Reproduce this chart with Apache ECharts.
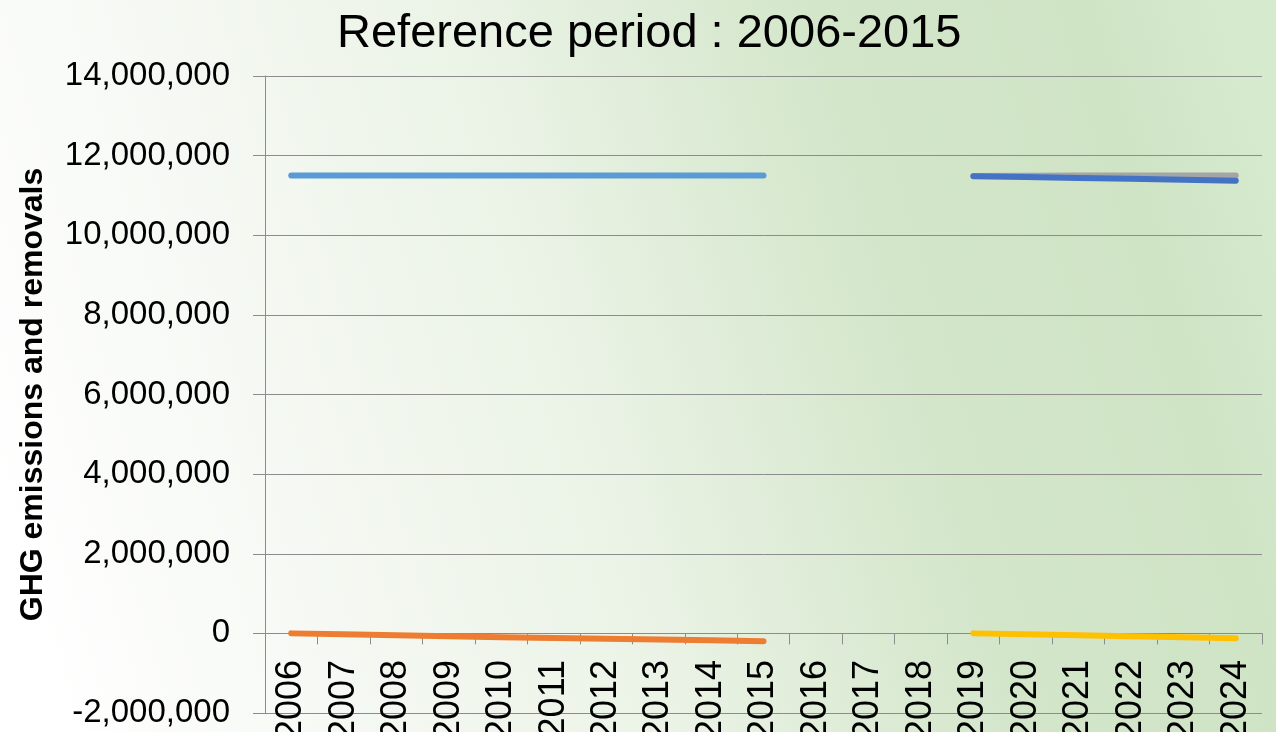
<!DOCTYPE html>
<html>
<head>
<meta charset="utf-8">
<script src="https://cdn.jsdelivr.net/npm/echarts@6/dist/echarts.min.js"></script>
<style>
html,body{margin:0;padding:0;}
#chart{width:1276px;height:732px;}
</style>
</head>
<body>
<div id="chart"></div>
<script>
// years on the category axis
const years = ['2006','2007','2008','2009','2010','2011','2012','2013','2014','2015',
               '2016','2017','2018','2019','2020','2021','2022','2023','2024'];

// reference period 2006-2015
const refEmissions = [11500000,11500000,11500000,11500000,11500000,11500000,11500000,11500000,11500000,11500000,
                      null,null,null,null,null,null,null,null,null];
const refRemovals = [0,-25000,-50000,-70000,-95000,-115000,-135000,-155000,-175000,-195000,
                     null,null,null,null,null,null,null,null,null];

// 2019-2024
const projEmissionsRef = [null,null,null,null,null,null,null,null,null,null,null,null,null,
                          11490000,11495000,11500000,11500000,11500000,11500000];
const projRemovals = [null,null,null,null,null,null,null,null,null,null,null,null,null,
                      0,-25000,-50000,-75000,-100000,-120000];
const projEmissions = [null,null,null,null,null,null,null,null,null,null,null,null,null,
                       11480000,11460000,11440000,11420000,11395000,11370000];

const yTicks = {min: -2000000, max: 14000000, interval: 2000000};

let chart = echarts.init(document.getElementById('chart'));

function lineSeries(data, color) {
    return {
        type: 'line',
        data: data,
        showSymbol: false,
        connectNulls: false,
        lineStyle: {color: color, width: 6, cap: 'round', join: 'round'},
        itemStyle: {color: color}
    };
}

let option = {
    backgroundColor: {
        type: 'linear', x: 0, y: 0.75, x2: 1, y2: 0.25,
        colorStops: [
            {offset: 0, color: '#ffffff'},
            {offset: 0.2, color: '#f6f9f4'},
            {offset: 0.45, color: '#ebf3e6'},
            {offset: 0.7, color: '#d3e6ca'},
            {offset: 0.9, color: '#cfe3c5'},
            {offset: 1, color: '#d6eace'}
        ]
    },
    animation: false,
    title: {
        text: 'Reference period : 2006-2015',
        left: 332,
        top: 6,
        textStyle: {fontFamily: 'Liberation Sans', fontSize: 47, fontWeight: 'normal', color: '#000'}
    },
    grid: {
        left: 265, right: 14, top: 76, bottom: 19,
        outerBoundsMode: 'none'
    },
    xAxis: {
        type: 'category',
        data: years,
        boundaryGap: true,
        axisLine: {lineStyle: {color: '#8c8c8c', width: 1}},
        axisTick: {show: true, length: 11, lineStyle: {color: '#8c8c8c'}},
        axisLabel: {
            show: true, interval: 0, rotate: 90, margin: -53,
            fontFamily: 'Liberation Sans', fontSize: 36, color: '#000'
        },
        splitLine: {show: false}
    },
    yAxis: {
        type: 'value',
        min: yTicks.min,
        max: yTicks.max,
        interval: yTicks.interval,
        name: 'GHG emissions and removals',
        nameLocation: 'middle',
        nameGap: 216,
        nameTextStyle: {fontFamily: 'Liberation Sans', fontSize: 32, fontWeight: 'bold', color: '#000'},
        axisLine: {show: true, lineStyle: {color: '#8c8c8c', width: 1}},
        axisTick: {show: true, length: 12, lineStyle: {color: '#8c8c8c'}},
        axisLabel: {
            margin: 35,
            fontFamily: 'Liberation Sans', fontSize: 33, color: '#000',
            formatter: v => v.toLocaleString('en-US')
        },
        splitLine: {lineStyle: {color: '#8c8c8c', width: 1}}
    },
    series: [
        lineSeries(refEmissions, '#5B9BD5'),
        lineSeries(refRemovals, '#ED7D31'),
        lineSeries(projEmissionsRef, '#A5A5A5'),
        lineSeries(projRemovals, '#FFC000'),
        lineSeries(projEmissions, '#4472C4')
    ]
};
chart.setOption(option);
</script>
</body>
</html>
